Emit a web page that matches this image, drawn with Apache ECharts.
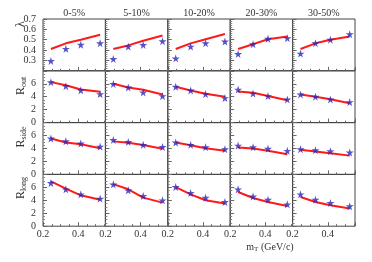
<!DOCTYPE html>
<html>
<head>
<meta charset="utf-8">
<script src="https://cdn.jsdelivr.net/npm/echarts@6/dist/echarts.min.js"></script>
<style>
  html, body { margin: 0; padding: 0; background: #fff; }
  #chart { width: 372px; height: 262px; }
</style>
</head>
<body>
<div id="chart"></div>
<script>
// columns = centrality classes, rows = observables
const centralities = ["0-5%", "5-10%", "10-20%", "20-30%", "30-50%"];
const mT = [0.245, 0.33, 0.415, 0.525];
const xTickLabels = [0.2, 0.4];

// lambda (stars = data, line = model), one array per centrality
const lambdaData = [
  [0.295, 0.412, 0.451, 0.467],
  [0.315, 0.434, 0.45, 0.486],
  [0.32, 0.434, 0.467, 0.483],
  [0.363, 0.457, 0.509, 0.515],
  [0.366, 0.467, 0.5, 0.554]
];
const lambdaModel = [
  [0.41, 0.465, 0.5, 0.548],
  [0.41, 0.445, 0.49, 0.54],
  [0.41, 0.465, 0.505, 0.555],
  [0.41, 0.457, 0.505, 0.531],
  [0.41, 0.465, 0.5, 0.53]
];
const routData = [
  [6.25, 5.63, 5.0, 4.4],
  [5.97, 5.43, 4.66, 4.1],
  [5.53, 4.97, 4.4, 3.79],
  [5.1, 4.48, 4.1, 3.58],
  [4.35, 4.0, 3.58, 3.17]
];
const routModel = [
  [6.25, 5.78, 5.12, 4.77],
  [6.0, 5.43, 5.07, 4.35],
  [5.53, 4.97, 4.46, 4.0],
  [4.8, 4.62, 4.1, 3.45],
  [4.35, 4.0, 3.6, 3.0]
];
const rsideData = [
  [5.54, 5.12, 4.77, 4.3],
  [5.33, 5.02, 4.56, 4.25],
  [4.92, 4.56, 4.2, 3.9],
  [4.45, 4.2, 3.98, 3.64],
  [3.9, 3.74, 3.59, 3.38]
];
const rsideModel = [
  [5.54, 4.92, 4.66, 4.05],
  [5.1, 4.9, 4.55, 3.95],
  [4.92, 4.5, 4.05, 3.64],
  [4.15, 4.0, 3.64, 3.12],
  [3.8, 3.55, 3.25, 2.9]
];
const rlongData = [
  [6.67, 5.69, 4.92, 4.26],
  [6.46, 5.54, 4.67, 4.0],
  [6.05, 5.13, 4.41, 3.74],
  [5.69, 4.6, 4.1, 3.38],
  [4.92, 4.1, 3.59, 3.08]
];
const rlongModel = [
  [6.92, 5.8, 4.77, 4.1],
  [6.5, 5.7, 4.41, 3.64],
  [6.05, 4.92, 4.0, 3.49],
  [5.28, 4.36, 3.74, 3.12],
  [4.51, 3.74, 3.23, 2.72]
];

const rows = [
  { data: lambdaData, model: lambdaModel, min: 0.2, max: 0.7, interval: 0.1, minor: 5, name: "{r|λ}", digits: 1 },
  { data: routData, model: routModel, min: 0, max: 8, interval: 2, minor: 4, name: "{r|R}{s|out}", digits: 0 },
  { data: rsideData, model: rsideModel, min: 0, max: 8, interval: 2, minor: 4, name: "{r|R}{s|side}", digits: 0 },
  { data: rlongData, model: rlongModel, min: 0, max: 8, interval: 2, minor: 4, name: "{r|R}{s|long}", digits: 0 }
];

const font = "Liberation Serif";
const textColor = "#333";
const starPath = "path://M50,0 L61,35 L98,35 L68,57 L79,91 L50,70 L21,91 L32,57 L2,35 L39,35 Z";

const left0 = 43, colW = 62.4, top0 = 19, rowH = 51.8;

let grid = [], xAxis = [], yAxis = [], series = [], graphic = [];

rows.forEach((row, r) => {
  centralities.forEach((cent, c) => {
    let g = grid.length;
    grid.push({
      left: left0 + c * colW, top: top0 + r * rowH,
      width: colW, height: rowH,
      show: true, borderColor: "#444", borderWidth: 1
    });
    // minor x ticks + labels
    xAxis.push({
      gridIndex: g, type: "value", position: "bottom",
      min: 0.2, max: 0.555, interval: 0.05,
      axisLine: { show: false }, splitLine: { show: false },
      axisTick: { inside: true, length: 2, lineStyle: { color: "#666" } },
      axisLabel: {
        show: r === rows.length - 1, showMaxLabel: false, margin: 3,
        fontFamily: font, fontSize: 10, color: textColor,
        formatter: v => xTickLabels.some(t => Math.abs(t - v) < 1e-6) ? v.toFixed(1) : ""
      }
    });
    // major x ticks
    xAxis.push({
      gridIndex: g, type: "value", position: "bottom",
      min: 0.2, max: 0.555, interval: 0.2,
      axisLine: { show: false }, splitLine: { show: false },
      axisTick: { inside: true, length: 4, lineStyle: { color: "#666" } },
      axisLabel: { show: false }
    });
    yAxis.push({
      gridIndex: g, type: "value",
      min: row.min, max: row.max, interval: row.interval,
      axisLine: { show: false }, splitLine: { show: false },
      axisTick: { inside: true, length: 4, lineStyle: { color: "#666" } },
      minorTick: { show: true, splitNumber: row.minor, length: 2, lineStyle: { color: "#888" } },
      axisLabel: {
        show: c === 0, showMinLabel: r !== 0, showMaxLabel: r === 0, margin: 7,
        fontFamily: font, fontSize: 10, color: textColor,
        formatter: v => v.toFixed(row.digits)
      }
    });
    series.push({
      type: "line", xAxisIndex: 2 * g, yAxisIndex: g,
      data: mT.map((x, i) => [x, row.model[c][i]]),
      symbol: "none", silent: true, z: 2,
      lineStyle: { color: "#ff1a1a", width: 2 }
    });
    series.push({
      type: "scatter", xAxisIndex: 2 * g, yAxisIndex: g,
      data: mT.map((x, i) => [x, row.data[c][i]]),
      symbol: starPath, symbolSize: 8, z: 3,
      itemStyle: { color: "#2a26b8" }
    });
  });
});

// column titles
centralities.forEach((cent, c) => {
  graphic.push({
    type: "text", x: left0 + (c + 0.5) * colW, y: 13,
    style: { text: cent, fontFamily: font, fontSize: 10, fill: textColor, align: "center", verticalAlign: "middle" }
  });
});

// row names
const nameY = [24, 86, 137, 188];
rows.forEach((row, r) => {
  graphic.push({
    type: "text", x: 21, y: nameY[r], rotation: Math.PI / 2,
    style: {
      text: row.name, fill: textColor, align: "center", verticalAlign: "middle",
      rich: {
        r: { fontFamily: font, fontSize: 12, fill: textColor, lineHeight: 14 },
        s: { fontFamily: font, fontSize: 8, fill: textColor, verticalAlign: "bottom", lineHeight: 14, padding: [4, 0, 0, 0] }
      }
    }
  });
});

// x axis name
graphic.push({
  type: "text", x: 270, y: 247,
  style: {
    text: "{m|m}{s|T}{m| (GeV/c)}", fill: textColor, align: "center", verticalAlign: "middle",
    rich: {
      m: { fontFamily: font, fontSize: 10, fill: textColor, lineHeight: 12 },
      s: { fontFamily: font, fontSize: 7, fill: textColor, verticalAlign: "bottom", lineHeight: 12, padding: [3, 0, 0, 0] }
    }
  }
});

const chart = echarts.init(document.getElementById("chart"));
chart.setOption({
  animation: false,
  grid: grid,
  xAxis: xAxis,
  yAxis: yAxis,
  series: series,
  graphic: graphic
});
</script>
</body>
</html>
